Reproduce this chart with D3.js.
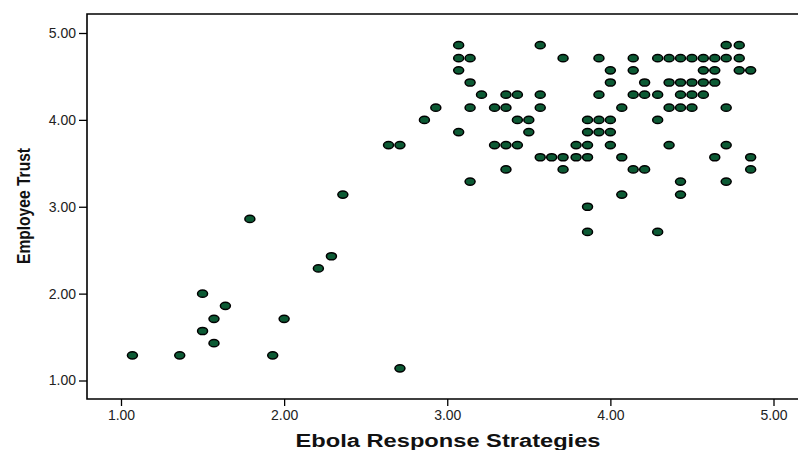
<!DOCTYPE html>
<html>
<head>
<meta charset="utf-8">
<script src="https://cdn.jsdelivr.net/npm/d3@7"></script>
<style>
  body { margin: 0; background: #fff; }
  svg { display: block; }
  .tick text { font-family: "Liberation Sans", Arial, sans-serif; font-size: 14px; fill: #222; }
  .tick line { stroke: #000; stroke-width: 1.3; }
</style>
</head>
<body>
<svg id="chart" width="798" height="450"></svg>
<script>
// Ebola Response Strategies (x) vs Employee Trust (y), one entry per respondent
const strategyScores = [
  1.07, 1.36, 1.50, 1.50, 1.57, 1.57, 1.64, 1.79, 1.93, 2.00, 2.21, 2.29, 2.36, 2.64, 2.71, 2.71, 2.86, 2.93,
  3.07, 3.07, 3.07, 3.07,
  3.14, 3.14, 3.14, 3.14,
  3.21,
  3.29, 3.29,
  3.36, 3.36, 3.36, 3.36,
  3.43, 3.43, 3.43,
  3.50, 3.50,
  3.57, 3.57, 3.57, 3.57,
  3.64,
  3.71, 3.71, 3.71,
  3.79, 3.79,
  3.86, 3.86, 3.86, 3.86, 3.86, 3.86,
  3.93, 3.93, 3.93, 3.93,
  4.00, 4.00, 4.00, 4.00, 4.00,
  4.07, 4.07, 4.07,
  4.14, 4.14, 4.14, 4.14,
  4.21, 4.21, 4.21,
  4.29, 4.29, 4.29, 4.29,
  4.36, 4.36, 4.36, 4.36,
  4.43, 4.43, 4.43, 4.43, 4.43, 4.43,
  4.50, 4.50, 4.50, 4.50,
  4.57, 4.57, 4.57, 4.57,
  4.64, 4.64, 4.64, 4.64,
  4.71, 4.71, 4.71, 4.71, 4.71,
  4.79, 4.79, 4.79,
  4.86, 4.86, 4.86
];
const trustScores = [
  1.29, 1.29, 2.00, 1.57, 1.71, 1.43, 1.86, 2.86, 1.29, 1.71, 2.29, 2.43, 3.14, 3.71, 3.71, 1.14, 4.00, 4.14,
  4.86, 4.71, 4.57, 3.86,
  4.71, 4.43, 4.14, 3.29,
  4.29,
  4.14, 3.71,
  4.29, 4.14, 3.71, 3.43,
  4.29, 4.00, 3.71,
  4.00, 3.86,
  4.86, 4.29, 4.14, 3.57,
  3.57,
  4.71, 3.57, 3.43,
  3.71, 3.57,
  4.00, 3.86, 3.71, 3.57, 3.00, 2.71,
  4.71, 4.29, 4.00, 3.86,
  4.57, 4.43, 4.00, 3.86, 3.71,
  4.14, 3.57, 3.14,
  4.71, 4.57, 4.29, 3.43,
  4.43, 4.29, 3.43,
  4.71, 4.29, 4.00, 2.71,
  4.71, 4.43, 4.14, 3.71,
  4.71, 4.43, 4.29, 4.14, 3.29, 3.14,
  4.71, 4.43, 4.29, 4.14,
  4.71, 4.57, 4.43, 4.29,
  4.71, 4.57, 4.43, 3.57,
  4.86, 4.71, 4.14, 3.71, 3.29,
  4.86, 4.71, 4.57,
  4.57, 3.57, 3.43
];
const tickValues = [1, 2, 3, 4, 5];
const xTitle = 'Ebola Response Strategies';
const yTitle = 'Employee Trust';

const svg = d3.select('#chart');
const frame = {left: 87, top: 14, right: 800, bottom: 399};

let x = d3.scaleLinear().domain([1, 5]).range([121, 773.5]);
let y = d3.scaleLinear().domain([1, 5]).range([380.5, 33]);

// plot frame (right edge runs off the picture)
svg.append('path')
  .attr('d', `M${frame.right},${frame.top}H${frame.left}V${frame.bottom}H${frame.right}`)
  .attr('fill', 'none').attr('stroke', '#000').attr('stroke-width', 1.6);

let yAxis = svg.append('g').attr('transform', `translate(${frame.left},0)`)
  .call(d3.axisLeft(y).tickValues(tickValues).tickFormat(d3.format('.2f')).tickSize(8).tickPadding(3));
yAxis.select('.domain').remove();

let xAxis = svg.append('g').attr('transform', `translate(0,${frame.bottom})`)
  .call(d3.axisBottom(x).tickValues(tickValues).tickFormat(d3.format('.2f')).tickSize(7).tickPadding(4));
xAxis.select('.domain').remove();

// points
let points = strategyScores.map((d, i) => [d, trustScores[i]]);
svg.append('g').selectAll('ellipse').data(points).enter().append('ellipse')
  .attr('cx', d => x(d[0]))
  .attr('cy', d => y(d[1]))
  .attr('rx', 5)
  .attr('ry', 3.6)
  .attr('fill', '#0c5a34')
  .attr('stroke', '#000')
  .attr('stroke-width', 1.5);

// axis titles
svg.append('text').text(xTitle)
  .attr('x', 448).attr('y', 447)
  .attr('text-anchor', 'middle')
  .attr('textLength', 305).attr('lengthAdjust', 'spacingAndGlyphs')
  .style('font-family', '"Liberation Sans", Arial, sans-serif')
  .style('font-weight', 'bold').style('font-size', '18px').style('fill', '#111');

svg.append('text').text(yTitle)
  .attr('transform', 'translate(30,206) rotate(-90)')
  .attr('text-anchor', 'middle')
  .attr('textLength', 116).attr('lengthAdjust', 'spacingAndGlyphs')
  .style('font-family', '"Liberation Sans", Arial, sans-serif')
  .style('font-weight', 'bold').style('font-size', '19px').style('fill', '#111');
</script>
</body>
</html>
